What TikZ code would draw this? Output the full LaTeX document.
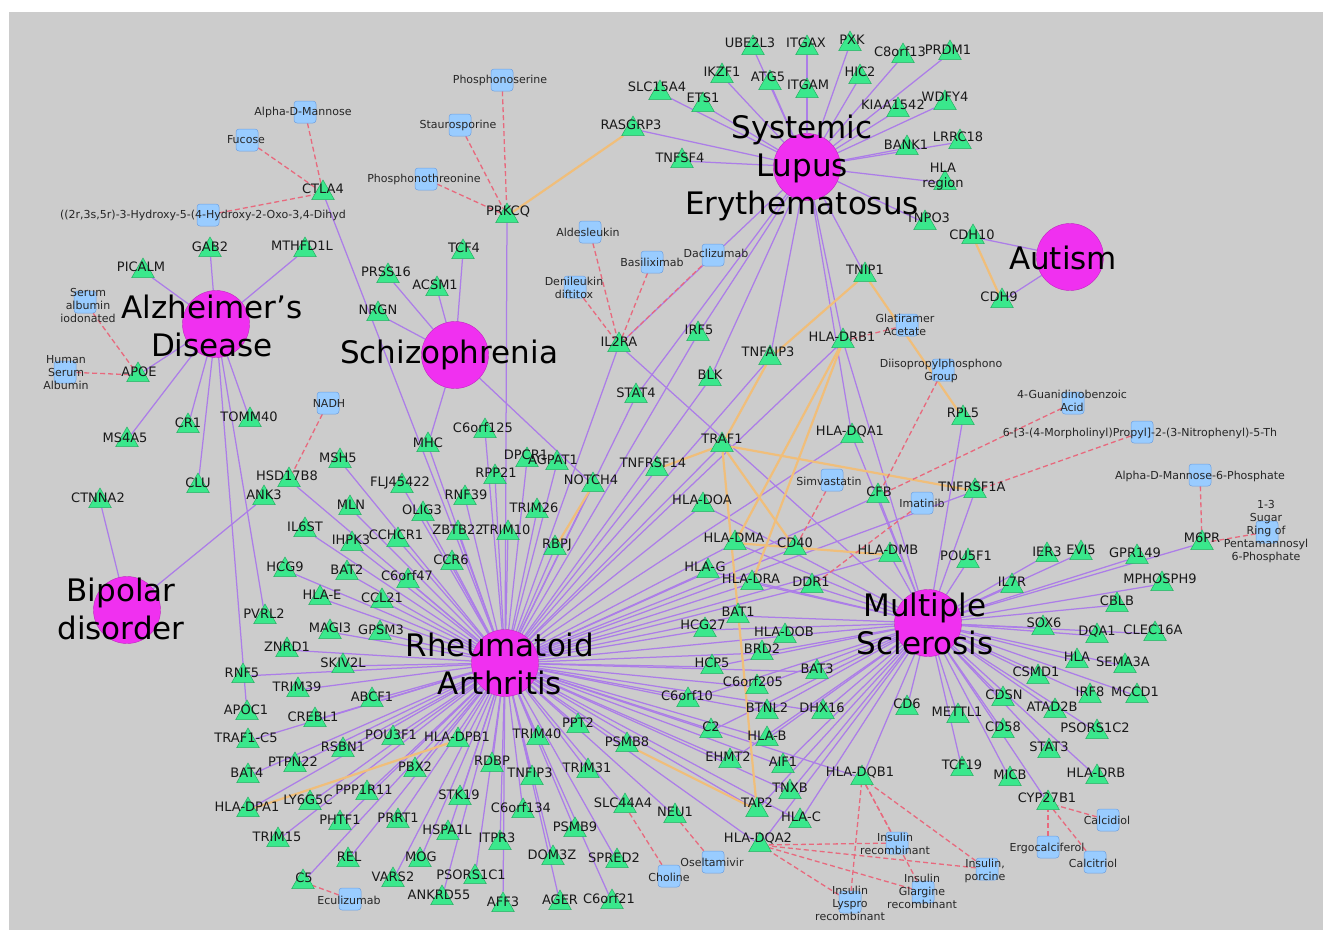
\documentclass[tikz,border=0pt]{standalone}
\usepackage{fontspec}
\setmainfont{DejaVu Sans}
\usetikzlibrary{shapes.geometric}
\definecolor{bggray}{RGB}{204,204,204}
\definecolor{pur}{RGB}{172,125,232}
\definecolor{org}{RGB}{240,190,122}
\definecolor{rdash}{RGB}{232,105,125}
\definecolor{gfill}{RGB}{58,232,140}
\definecolor{gdraw}{RGB}{40,175,100}
\definecolor{bfill}{RGB}{153,204,255}
\definecolor{bdraw}{RGB}{110,160,225}
\definecolor{mag}{RGB}{240,48,240}
\pgfdeclarelayer{bg}\pgfdeclarelayer{edges}\pgfdeclarelayer{labels}
\pgfsetlayers{bg,edges,main,labels}
\tikzset{
 gene/.style={regular polygon, regular polygon sides=3, minimum size=26pt, inner sep=0pt, yshift=-3pt, fill=gfill, draw=gdraw, line width=0.5pt},
 drug/.style={rectangle, rounded corners=3pt, minimum size=22pt, inner sep=0pt, fill=bfill, draw=bdraw, line width=0.5pt},
 dis/.style={circle, minimum size=67pt, inner sep=0pt, fill=mag, draw=mag!80!black, line width=0.4pt},
 glab/.style={font=\fontsize{13}{15}\selectfont, align=center, inner sep=0pt, text=black!90},
 dlab/.style={font=\fontsize{11}{13}\selectfont, align=center, inner sep=0pt, text=black!85},
 bigl/.style={font=\fontsize{31}{38}\selectfont, align=center, inner sep=0pt},
 pe/.style={draw=pur, line width=1.25pt},
 oe/.style={draw=org, line width=2.2pt},
 re/.style={draw=rdash, line width=1.3pt, dash pattern=on 5pt off 3pt},
}
\newcommand\mkgene[6]{\node[gene] (#1) at (#2,#3) {};\begin{pgfonlayer}{labels}\node[glab] (#1-l) at (#5,#6) {#4};\end{pgfonlayer}}
\newcommand\mkdrug[6]{\node[drug] (#1) at (#2,#3) {};\begin{pgfonlayer}{labels}\node[dlab] (#1-l) at (#5,#6) {#4};\end{pgfonlayer}}
\newcommand\mkdis[6]{\node[dis] (#1) at (#2,#3) {};\begin{pgfonlayer}{labels}\node[bigl] (#1-l) at (#5,#6) {#4};\end{pgfonlayer}}
\begin{document}
\begin{tikzpicture}[x=1pt,y=-1pt]
\useasboundingbox (0,0) rectangle (1323,930);
\begin{pgfonlayer}{bg}
\fill[white] (0,0) rectangle (1323,930);
\fill[bggray] (9,12) rectangle (1323,930);
\end{pgfonlayer}
% diseases
\mkdis{AD}{216}{324}{Alzheimer's\\Disease}{212}{326}
\mkdis{SZ}{455}{355}{Schizophrenia}{449}{355}
\mkdis{SLE}{807}{167}{Systemic\\Lupus\\Erythematosus}{802}{168}
\mkdis{AUT}{1070}{257}{Autism}{1063}{258}
\mkdis{BD}{127}{610}{Bipolar\\disorder}{121}{609}
\mkdis{RA}{505}{663}{Rheumatoid\\Arthritis}{500}{664}
\mkdis{MS}{928}{623}{Multiple\\Sclerosis}{925}{624}
% genes left
\mkgene{CTLA4}{323}{190}{CTLA4}{323}{189}
\mkgene{GAB2}{210}{247}{GAB2}{210}{247}
\mkgene{MTHFD1L}{305}{247}{MTHFD1L}{302}{246}
\mkgene{PICALM}{143}{268}{PICALM}{141}{267}
\mkgene{APOE}{138}{372}{APOE}{139}{372}
\mkgene{MS4A5}{127}{437}{MS4A5}{125}{438}
\mkgene{CR1}{188}{423}{CR1}{188}{423}
\mkgene{TOMM40}{250}{417}{TOMM40}{249}{417}
\mkgene{CLU}{198}{483}{CLU}{198}{483}
\mkgene{CTNNA2}{100}{498}{CTNNA2}{98}{498}
\mkgene{ANK3}{264}{495}{ANK3}{264}{495}
\mkgene{HSD17B8}{289}{477}{HSD17B8}{287}{476}
\mkgene{IL6ST}{305}{527}{IL6ST}{305}{527}
\mkgene{HCG9}{285}{567}{HCG9}{285}{567}
\mkgene{HLAE}{320}{595}{HLA-E}{322}{595}
\mkgene{PVRL2}{265}{614}{PVRL2}{264}{614}
\mkgene{MAGI3}{330}{629}{MAGI3}{330}{628}
\mkgene{ZNRD1}{287}{647}{ZNRD1}{287}{647}
\mkgene{RNF5}{243}{673}{RNF5}{242}{673}
\mkgene{SKIV2L}{343}{663}{SKIV2L}{343}{663}
\mkgene{TRIM39}{298}{687}{TRIM39}{297}{687}
\mkgene{APOC1}{247}{710}{APOC1}{246}{710}
\mkgene{CREBL1}{315}{717}{CREBL1}{313}{717}
\mkgene{ABCF1}{372}{697}{ABCF1}{372}{697}
\mkgene{TRAF1C5}{248}{738}{TRAF1-C5}{246}{738}
\mkgene{RSBN1}{343}{747}{RSBN1}{343}{747}
\mkgene{PTPN22}{295}{762}{PTPN22}{293}{762}
\mkgene{POU3F1}{393}{735}{POU3F1}{391}{735}
\mkgene{HLADPB1}{458}{737}{HLA-DPB1}{457}{737}
\mkgene{BAT4}{248}{773}{BAT4}{247}{773}
\mkgene{PBX2}{415}{767}{PBX2}{415}{767}
\mkgene{RDBP}{492}{762}{RDBP}{492}{761}
\mkgene{TRIM40}{538}{735}{TRIM40}{537}{734}
\mkgene{PPT2}{578}{723}{PPT2}{578}{723}
\mkgene{PSMB8}{627}{742}{PSMB8}{627}{742}
\mkgene{TNFIP3}{532}{775}{TNFIP3}{530}{773}
\mkgene{TRIM31}{588}{768}{TRIM31}{587}{768}
\mkgene{HLADPA1}{248}{807}{HLA-DPA1}{247}{807}
\mkgene{LY6G5C}{310}{800}{LY6G5C}{308}{800}
\mkgene{PPP1R11}{367}{790}{PPP1R11}{364}{790}
\mkgene{PHTF1}{340}{820}{PHTF1}{340}{820}
\mkgene{PRRT1}{398}{818}{PRRT1}{398}{818}
\mkgene{STK19}{460}{795}{STK19}{459}{795}
\mkgene{C6orf134}{523}{808}{C6orf134}{521}{808}
\mkgene{SLC44A4}{625}{803}{SLC44A4}{623}{803}
\mkgene{NEU1}{675}{813}{NEU1}{675}{812}
\mkgene{TRIM15}{278}{837}{TRIM15}{277}{837}
\mkgene{HSPA1L}{448}{830}{HSPA1L}{447}{830}
\mkgene{ITPR3}{500}{840}{ITPR3}{497}{838}
\mkgene{PSMB9}{575}{827}{PSMB9}{575}{827}
\mkgene{REL}{348}{857}{REL}{349}{857}
\mkgene{MOG}{420}{857}{MOG}{421}{857}
\mkgene{DOM3Z}{553}{855}{DOM3Z}{552}{855}
\mkgene{SPRED2}{617}{858}{SPRED2}{614}{858}
\mkgene{C5}{303}{879}{C5}{304}{878}
\mkgene{VARS2}{393}{877}{VARS2}{393}{877}
\mkgene{PSORS1C1}{475}{874}{PSORS1C1}{471}{875}
\mkgene{ANKRD55}{442}{895}{ANKRD55}{439}{895}
\mkgene{AFF3}{503}{902}{AFF3}{503}{902}
\mkgene{AGER}{560}{900}{AGER}{560}{900}
\mkgene{C6orf21}{612}{899}{C6orf21}{609}{899}
% middle
\mkgene{NRGN}{378}{311}{NRGN}{378}{310}
\mkgene{PRSS16}{388}{273}{PRSS16}{386}{272}
\mkgene{ACSM1}{437}{286}{ACSM1}{435}{285}
\mkgene{TCF4}{463}{249}{TCF4}{464}{248}
\mkgene{PRKCQ}{507}{213}{PRKCQ}{508}{212}
\mkgene{RASGRP3}{633}{126}{RASGRP3}{631}{125}
\mkgene{IL2RA}{619}{342}{IL2RA}{619}{342}
\mkgene{STAT4}{636}{393}{STAT4}{636}{393}
\mkgene{C6orf125}{485}{428}{C6orf125}{483}{428}
\mkgene{MHC}{428}{442}{MHC}{428}{443}
\mkgene{DPCR1}{527}{457}{DPCR1}{526}{455}
\mkgene{AGPAT1}{557}{460}{AGPAT1}{553}{460}
\mkgene{RPP21}{495}{474}{RPP21}{496}{473}
\mkgene{NOTCH4}{593}{482}{NOTCH4}{591}{480}
\mkgene{MSH5}{340}{458}{MSH5}{338}{458}
\mkgene{FLJ45422}{402}{483}{FLJ45422}{400}{483}
\mkgene{RNF39}{465}{495}{RNF39}{466}{495}
\mkgene{MLN}{350}{505}{MLN}{351}{505}
\mkgene{OLIG3}{423}{511}{OLIG3}{422}{510}
\mkgene{TRIM26}{537}{508}{TRIM26}{534}{508}
\mkgene{IHPK3}{352}{541}{IHPK3}{351}{540}
\mkgene{CCHCR1}{398}{537}{CCHCR1}{396}{535}
\mkgene{ZBTB22}{458}{530}{ZBTB22}{458}{530}
\mkgene{TRIM10}{508}{530}{TRIM10}{506}{530}
\mkgene{RBPJ}{555}{545}{RBPJ}{557}{545}
\mkgene{CCR6}{452}{560}{CCR6}{451}{560}
\mkgene{C6orf47}{408}{578}{C6orf47}{407}{576}
\mkgene{CCL21}{382}{598}{CCL21}{382}{598}
\mkgene{GPSM3}{380}{630}{GPSM3}{381}{630}
\mkgene{BAT2}{347}{570}{BAT2}{347}{570}
\mkgene{TNFRSF14}{657}{466}{TNFRSF14}{653}{463}
% SLE genes
\mkgene{UBE2L3}{753}{45}{UBE2L3}{750}{43}
\mkgene{ITGAX}{807}{45}{ITGAX}{806}{43}
\mkgene{PXK}{850}{41}{PXK}{852}{40}
\mkgene{C8orf13}{903}{53}{C8orf13}{900}{52}
\mkgene{PRDM1}{950}{50}{PRDM1}{948}{50}
\mkgene{IKZF1}{722}{73}{IKZF1}{722}{72}
\mkgene{ATG5}{770}{80}{ATG5}{768}{77}
\mkgene{ITGAM}{807}{88}{ITGAM}{808}{85}
\mkgene{HIC2}{860}{74}{HIC2}{860}{72}
\mkgene{ETS1}{703}{102}{ETS1}{703}{98}
\mkgene{SLC15A4}{660}{90}{SLC15A4}{657}{87}
\mkgene{KIAA1542}{898}{107}{KIAA1542}{893}{105}
\mkgene{WDFY4}{945}{100}{WDFY4}{945}{97}
\mkgene{BANK1}{907}{145}{BANK1}{906}{145}
\mkgene{LRRC18}{960}{139}{LRRC18}{958}{137}
\mkgene{HLAreg}{945}{180}{HLA\\region}{943}{177}
\mkgene{TNPO3}{925}{220}{TNPO3}{928}{218}
\mkgene{CDH10}{973}{234}{CDH10}{972}{235}
\mkgene{CDH9}{1002}{298}{CDH9}{999}{297}
\mkgene{TNIP1}{865}{272}{TNIP1}{865}{270}
\mkgene{TNFSF4}{682}{158}{TNFSF4}{680}{158}
% center right
\mkgene{IRF5}{698}{331}{IRF5}{699}{330}
\mkgene{TNFAIP3}{770}{355}{TNFAIP3}{768}{352}
\mkgene{BLK}{710}{376}{BLK}{710}{375}
\mkgene{HLADRB1}{843}{338}{HLA-DRB1}{842}{337}
\mkgene{RPL5}{963}{415}{RPL5}{963}{413}
\mkgene{HLADQA1}{852}{433}{HLA-DQA1}{850}{432}
\mkgene{TRAF1}{722}{442}{TRAF1}{722}{439}
\mkgene{CFB}{878}{493}{CFB}{879}{492}
\mkgene{TNFRSF1A}{975}{488}{TNFRSF1A}{972}{487}
\mkgene{HLADOA}{703}{502}{HLA-DOA}{702}{500}
\mkgene{HLADMA}{735}{540}{HLA-DMA}{734}{538}
\mkgene{CD40}{795}{545}{CD40}{795}{543}
\mkgene{HLADMB}{890}{552}{HLA-DMB}{888}{550}
\mkgene{POU5F1}{968}{558}{POU5F1}{966}{556}
\mkgene{HLAG}{708}{568}{HLA-G}{705}{567}
\mkgene{HLADRA}{752}{580}{HLA-DRA}{751}{579}
\mkgene{DDR1}{812}{583}{DDR1}{811}{582}
\mkgene{BAT1}{738}{613}{BAT1}{738}{612}
\mkgene{HCG27}{705}{627}{HCG27}{703}{625}
\mkgene{HLADOB}{785}{633}{HLA-DOB}{784}{632}
\mkgene{BRD2}{762}{650}{BRD2}{762}{649}
\mkgene{HCP5}{712}{664}{HCP5}{712}{663}
\mkgene{BAT3}{817}{669}{BAT3}{817}{669}
\mkgene{C6orf205}{757}{684}{C6orf205}{753}{682}
\mkgene{C6orf10}{688}{697}{C6orf10}{687}{696}
\mkgene{BTNL2}{767}{709}{BTNL2}{767}{708}
\mkgene{DHX16}{823}{709}{DHX16}{822}{708}
\mkgene{CD6}{907}{705}{CD6}{907}{704}
\mkgene{METTL1}{958}{713}{METTL1}{957}{712}
\mkgene{C2}{711}{728}{C2}{711}{727}
\mkgene{HLAB}{767}{736}{HLA-B}{767}{736}
\mkgene{EHMT2}{730}{758}{EHMT2}{728}{757}
\mkgene{AIF1}{783}{763}{AIF1}{783}{762}
\mkgene{HLADQB1}{862}{775}{HLA-DQB1}{860}{773}
\mkgene{TCF19}{962}{766}{TCF19}{962}{765}
\mkgene{TNXB}{790}{789}{TNXB}{790}{788}
\mkgene{TAP2}{757}{807}{TAP2}{757}{803}
\mkgene{HLAC}{800}{818}{HLA-C}{801}{817}
\mkgene{HLADQA2}{760}{842}{HLA-DQA2}{758}{839}
% right
\mkgene{IER3}{1047}{552}{IER3}{1047}{552}
\mkgene{EVI5}{1081}{550}{EVI5}{1081}{550}
\mkgene{GPR149}{1137}{554}{GPR149}{1135}{553}
\mkgene{MPHOSPH9}{1162}{581}{MPHOSPH9}{1160}{579}
\mkgene{IL7R}{1012}{583}{IL7R}{1012}{582}
\mkgene{CBLB}{1117}{602}{CBLB}{1117}{601}
\mkgene{M6PR}{1202}{540}{M6PR}{1202}{538}
\mkgene{SOX6}{1043}{625}{SOX6}{1044}{623}
\mkgene{DQA1}{1097}{633}{DQA1}{1097}{632}
\mkgene{CLEC16A}{1155}{631}{CLEC16A}{1153}{630}
\mkgene{HLA}{1077}{658}{HLA}{1077}{657}
\mkgene{SEMA3A}{1125}{663}{SEMA3A}{1123}{662}
\mkgene{CSMD1}{1038}{674}{CSMD1}{1036}{672}
\mkgene{IRF8}{1090}{693}{IRF8}{1090}{692}
\mkgene{MCCD1}{1137}{693}{MCCD1}{1135}{692}
\mkgene{CDSN}{1003}{696}{CDSN}{1004}{695}
\mkgene{ATAD2B}{1055}{708}{ATAD2B}{1052}{707}
\mkgene{CD58}{1003}{728}{CD58}{1003}{727}
\mkgene{PSORS1C2}{1097}{729}{PSORS1C2}{1095}{728}
\mkgene{STAT3}{1049}{748}{STAT3}{1049}{747}
\mkgene{MICB}{1010}{776}{MICB}{1010}{775}
\mkgene{HLADRB}{1097}{774}{HLA-DRB}{1096}{773}
\mkgene{CYP27B1}{1048}{800}{CYP27B1}{1047}{798}
% drugs
\mkdrug{AlphaDM}{305}{112}{Alpha-D-Mannose}{303}{112}
\mkdrug{Fucose}{247}{140}{Fucose}{246}{140}
\mkdrug{Hydroxy}{208}{215}{((2r,3s,5r)-3-Hydroxy-5-(4-Hydroxy-2-Oxo-3,4-Dihyd}{203}{215}
\mkdrug{SerumAlb}{85}{302}{Serum\\albumin\\iodonated}{88}{305}
\mkdrug{HSA}{65}{372}{Human\\Serum\\Albumin}{66}{373}
\mkdrug{NADH}{328}{403}{NADH}{329}{403}
\mkdrug{Phosphonoserine}{502}{80}{Phosphonoserine}{500}{80}
\mkdrug{Staurosporine}{460}{125}{Staurosporine}{458}{125}
\mkdrug{Phosphonothreonine}{426}{179}{Phosphonothreonine}{424}{179}
\mkdrug{Aldesleukin}{590}{232}{Aldesleukin}{588}{232}
\mkdrug{Basiliximab}{652}{262}{Basiliximab}{652}{262}
\mkdrug{Daclizumab}{713}{255}{Daclizumab}{716}{253}
\mkdrug{Denileukin}{575}{287}{Denileukin\\diftitox}{574}{288}
\mkdrug{Glatiramer}{907}{325}{Glatiramer\\Acetate}{905}{325}
\mkdrug{Diiso}{943}{370}{Diisopropylphosphono\\Group}{941}{371}
\mkdrug{Guanidino}{1073}{403}{4-Guanidinobenzoic\\Acid}{1072}{401}
\mkdrug{Morph}{1142}{432}{6-[3-(4-Morpholinyl)Propyl]-2-(3-Nitrophenyl)-5-Th}{1140}{433}
\mkdrug{AMSixP}{1200}{475}{Alpha-D-Mannose-6-Phosphate}{1200}{476}
\mkdrug{Sugar}{1267}{532}{1-3\\Sugar\\Ring of\\Pentamannosyl\\6-Phosphate}{1266}{532}
\mkdrug{Simvastatin}{832}{480}{Simvastatin}{829}{481}
\mkdrug{Imatinib}{922}{503}{Imatinib}{922}{503}
\mkdrug{InsRec}{897}{843}{Insulin\\recombinant}{895}{844}
\mkdrug{Oseltamivir}{713}{862}{Oseltamivir}{712}{862}
\mkdrug{Choline}{669}{876}{Choline}{669}{877}
\mkdrug{InsPorc}{987}{869}{Insulin,\\porcine}{985}{871}
\mkdrug{Glargine}{923}{892}{Insulin\\Glargine\\recombinant}{922}{891}
\mkdrug{Lyspro}{850}{902}{Insulin\\Lyspro\\recombinant}{850}{903}
\mkdrug{Eculizumab}{350}{899}{Eculizumab}{349}{900}
\mkdrug{Calcidiol}{1108}{820}{Calcidiol}{1107}{820}
\mkdrug{Ergocalciferol}{1048}{847}{Ergocalciferol}{1047}{848}
\mkdrug{Calcitriol}{1095}{862}{Calcitriol}{1093}{863}
% edges
\begin{pgfonlayer}{edges}
\foreach \g in {PICALM,GAB2,MTHFD1L,APOE,MS4A5,CR1,CLU,TOMM40,PVRL2,APOC1} \draw[pe] (AD) -- (\g);
\foreach \g in {CTNNA2,ANK3} \draw[pe] (BD) -- (\g);
\foreach \g in {NRGN,PRSS16,ACSM1,TCF4,MHC,NOTCH4} \draw[pe] (SZ) -- (\g);
\foreach \g in {CDH10,CDH9} \draw[pe] (AUT) -- (\g);
\foreach \g in {UBE2L3,ITGAX,PXK,C8orf13,PRDM1,IKZF1,ATG5,ITGAM,HIC2,ETS1,SLC15A4,KIAA1542,WDFY4,BANK1,LRRC18,HLAreg,TNPO3,TNFSF4,RASGRP3,TNIP1,IRF5,BLK,STAT4,IL2RA,TNFAIP3,HLADRB1,HLADQA1} \draw[pe] (SLE) -- (\g);
\foreach \g in {HSD17B8,MSH5,FLJ45422,MLN,OLIG3,IL6ST,IHPK3,CCHCR1,HCG9,BAT2,HLAE,C6orf47,CCL21,MAGI3,GPSM3,ZNRD1,RNF5,SKIV2L,TRIM39,ABCF1,CREBL1,TRAF1C5,RSBN1,PTPN22,POU3F1,HLADPB1,BAT4,PBX2,RDBP,TRIM40,PPT2,PSMB8,TNFIP3,TRIM31,HLADPA1,LY6G5C,PPP1R11,PHTF1,PRRT1,STK19,C6orf134,SLC44A4,NEU1,TRIM15,HSPA1L,ITPR3,PSMB9,REL,MOG,DOM3Z,SPRED2,C5,VARS2,PSORS1C1,ANKRD55,AFF3,AGER,C6orf21,MHC,C6orf125,DPCR1,AGPAT1,RPP21,NOTCH4,RNF39,TRIM26,ZBTB22,TRIM10,RBPJ,CCR6,PRKCQ,CTLA4,IL2RA,STAT4,IRF5,BLK,TNFAIP3,TRAF1,TNFRSF14,HLADRB1,HLADQA1,HLADOA,HLADMA,CD40,HLADMB,HLAG,HLADRA,DDR1,BAT1,HCG27,HLADOB,BRD2,HCP5,BAT3,C6orf205,C6orf10,BTNL2,DHX16,C2,HLAB,EHMT2,AIF1,HLADQB1,TNXB,TAP2,HLAC,HLADQA2,CFB,TNFRSF1A} \draw[pe] (RA) -- (\g);
\foreach \g in {RPL5,TNFRSF1A,POU5F1,IL7R,IER3,EVI5,GPR149,MPHOSPH9,CBLB,SOX6,DQA1,CLEC16A,HLA,SEMA3A,CSMD1,IRF8,MCCD1,CDSN,ATAD2B,CD58,PSORS1C2,STAT3,MICB,HLADRB,CYP27B1,TCF19,METTL1,CD6,HLADQB1,HLADMB,CFB,HLADRB1,HLADQA1,IL2RA,M6PR,HLADMA,HLAG,HLADRA,DDR1,BAT1,HCG27,HLADOB,BRD2,HCP5,BAT3,C6orf205,C6orf10,BTNL2,DHX16,C2,HLAB,EHMT2,AIF1,TNXB,TAP2,HLAC,HLADQA2,HLADOA} \draw[pe] (MS) -- (\g);
% orange
\draw[oe] (PRKCQ) -- (RASGRP3);
\draw[oe] (CDH10) -- (CDH9);
\draw[oe] (TNIP1) -- (TNFAIP3);
\draw[oe] (TNIP1) -- (RPL5);
\draw[oe] (TNFAIP3) -- (TRAF1);
\draw[oe] (TNFRSF14) -- (TRAF1);
\draw[oe] (TRAF1) -- (TNFRSF1A);
\draw[oe] (TRAF1) -- (CD40);
\draw[oe] (TRAF1) -- (TAP2);
\draw[oe] (NOTCH4) -- (RBPJ);
\draw[oe] (HLADPA1) -- (HLADPB1);
\draw[oe] (PSMB8) -- (TAP2);
\draw[oe] (HLADRB1) -- (HLADMA);
\draw[oe] (HLADRB1) -- (HLADRA);
\draw[oe] (HLADMA) -- (HLADMB);
% red dashed
\foreach \a/\b in {AlphaDM/CTLA4,Fucose/CTLA4,Hydroxy/CTLA4,SerumAlb/APOE,HSA/APOE,NADH/HSD17B8,Phosphonoserine/PRKCQ,Staurosporine/PRKCQ,Phosphonothreonine/PRKCQ,Aldesleukin/IL2RA,Basiliximab/IL2RA,Daclizumab/IL2RA,Denileukin/IL2RA,Glatiramer/HLADRB1,Diiso/CFB,Guanidino/CFB,Morph/TNFRSF1A,AMSixP/M6PR,Sugar/M6PR,Simvastatin/CD40,Imatinib/DDR1,Calcidiol/CYP27B1,Ergocalciferol/CYP27B1,Calcitriol/CYP27B1,InsRec/HLADQB1,InsPorc/HLADQB1,Lyspro/HLADQB1,Glargine/HLADQB1,InsRec/HLADQA2,InsPorc/HLADQA2,Glargine/HLADQA2,Lyspro/HLADQA2,Choline/SLC44A4,Oseltamivir/NEU1,Eculizumab/C5} \draw[re] (\a) -- (\b);
\end{pgfonlayer}
\end{tikzpicture}
\end{document}
